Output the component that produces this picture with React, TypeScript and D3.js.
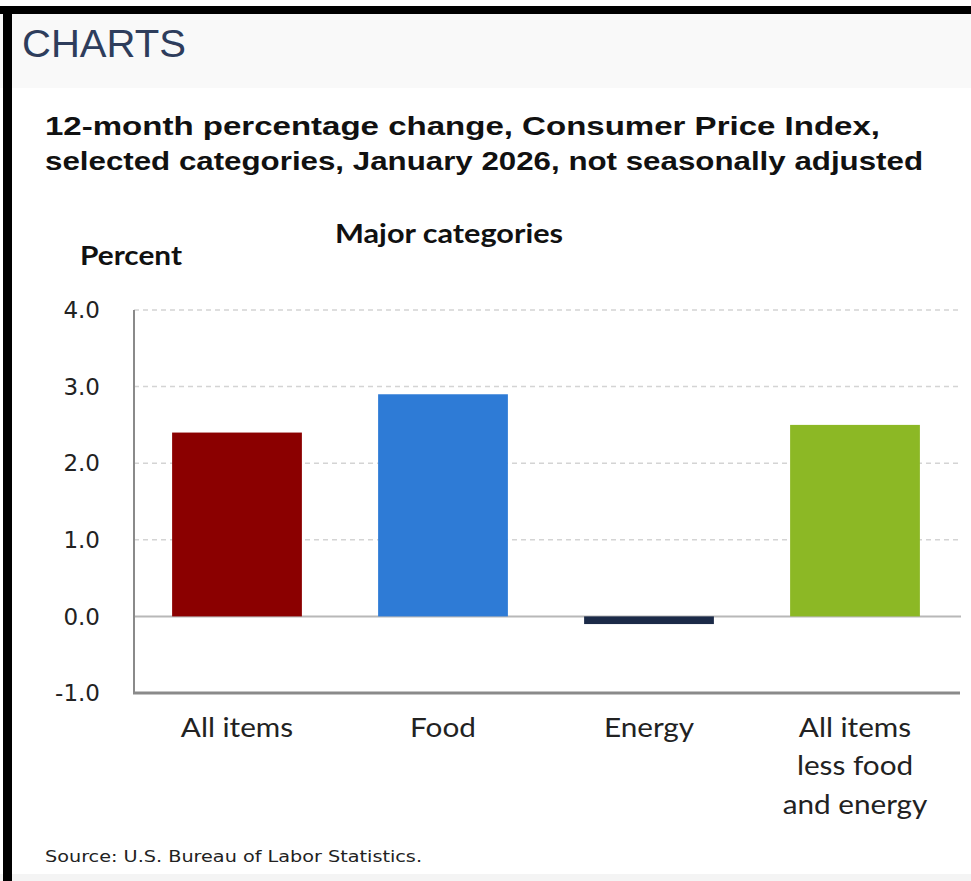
import React from "react";
import * as d3 from "d3";

const categories = ["All items", "Food", "Energy", "All items less food and energy"];
const categoryLines = [["All items"], ["Food"], ["Energy"], ["All items", "less food", "and energy"]];
const values = [2.4, 2.9, -0.1, 2.5];
const barColors = ["#8b0000", "#2e7bd6", "#1b2a48", "#8cb825"];
const yTicks = [-1, 0, 1, 2, 3, 4];
const titleLines = [
  "12-month percentage change, Consumer Price Index,",
  "selected categories, January 2026, not seasonally adjusted",
];
const titleWidths = [835, 878];

export default function App() {
  const W = 971;
  const H = 881;
  const x0 = 134;
  const x1 = 958;
  const y = d3.scaleLinear().domain([-1, 4]).range([693, 310]);
  const x = d3.scaleBand<string>().domain(categories).range([x0, x1]).paddingInner(0.37).paddingOuter(0.185);
  const calibri = "Lato, 'Open Sans', sans-serif";
  const sx = 1.1;
  return (
    <svg width={W} height={H} style={{ position: "absolute", left: 0, top: 0, background: "#fff" }}>
      <rect x={0} y={0} width={W} height={H} fill="#fff" />
      <rect x={0} y={12} width={W} height={76} fill="#f9f9f9" />
      <rect x={0} y={874} width={W} height={7} fill="#f4f4f4" />
      <rect x={0} y={6} width={W} height={8} fill="#000" />
      <rect x={3} y={6} width={9} height={H} fill="#000" />
      <text x={22} y={57} fontFamily="'Liberation Sans', Arial, sans-serif" fontSize={39} fill="#2e3d5c" textLength={164} lengthAdjust="spacingAndGlyphs">
        CHARTS
      </text>
      {titleLines.map((t, i) => (
        <text key={i} x={45} y={135 + i * 35} fontFamily="'Liberation Sans', Arial, sans-serif" fontWeight="bold" fontSize={26} fill="#111" textLength={titleWidths[i]} lengthAdjust="spacingAndGlyphs">
          {t}
        </text>
      ))}
      <text x={335} y={243} fontFamily={calibri} fontWeight="bold" fontSize={26} fill="#111" textLength={228} lengthAdjust="spacingAndGlyphs">
        Major categories
      </text>
      <text x={80} y={265} fontFamily={calibri} fontWeight="bold" fontSize={26} fill="#111" textLength={102} lengthAdjust="spacingAndGlyphs">
        Percent
      </text>
      {yTicks.filter((t) => t > 0).map((t) => (
        <line key={t} x1={x0} x2={961} y1={y(t)} y2={y(t)} stroke="#d4d4d4" strokeWidth={1.5} strokeDasharray="5,4" />
      ))}
      <line x1={x0} x2={961} y1={y(0)} y2={y(0)} stroke="#b8b8b8" strokeWidth={2} />
      {categories.map((c, i) => {
        const v = values[i];
        const top = y(Math.max(0, v));
        const bot = y(Math.min(0, v));
        return <rect key={c} x={x(c)} y={top} width={x.bandwidth()} height={bot - top} fill={barColors[i]} />;
      })}
      <line x1={x0} x2={x0} y1={y(4)} y2={y(-1)} stroke="#8a8a8a" strokeWidth={2} />
      <line x1={x0 - 1} x2={960} y1={y(-1)} y2={y(-1)} stroke="#8a8a8a" strokeWidth={3} />
      {yTicks.map((t) => (
        <text key={t} x={100} y={y(t)} dy="0.36em" textAnchor="end" fontFamily="'DejaVu Sans', Verdana, sans-serif" fontSize={23} fill="#222">
          {d3.format(".1f")(t).replace("−", "-")}
        </text>
      ))}
      {categories.map((c, i) => {
        const cx = (x(c) as number) + x.bandwidth() / 2;
        return (
          <g key={c} transform={`translate(${cx},0) scale(${sx},1)`}>
            <text textAnchor="middle" fontFamily={calibri} fontSize={27} fill="#222">
              {categoryLines[i].map((ln, j) => (
                <tspan key={j} x={0} y={737 + j * 38.5}>
                  {ln}
                </tspan>
              ))}
            </text>
          </g>
        );
      })}
      <text x={45} y={862} fontFamily="'DejaVu Sans', Verdana, sans-serif" fontSize={16.5} fill="#222" textLength={377} lengthAdjust="spacingAndGlyphs">
        Source: U.S. Bureau of Labor Statistics.
      </text>
    </svg>
  );
}
